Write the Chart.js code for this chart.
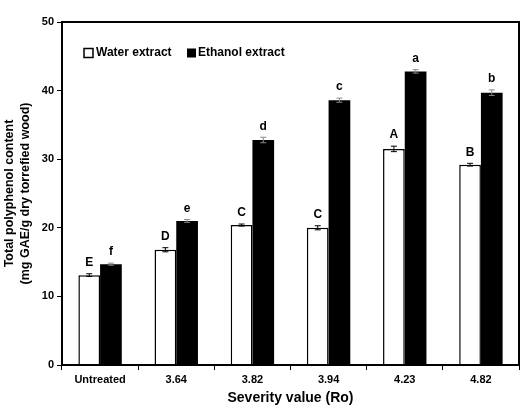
<!DOCTYPE html>
<html>
<head>
<meta charset="utf-8">
<script src="https://cdn.jsdelivr.net/npm/chart.js@4"></script>
<style>
  body { margin: 0; background: #fff; }
  #wrap { width: 521px; height: 407px; }
</style>
</head>
<body>
<div id="wrap"><canvas id="chart" width="521" height="407"></canvas></div>
<script>
const categories = ['Untreated', '3.64', '3.82', '3.94', '4.23', '4.82'];
const waterValues = [13.1, 16.8, 20.4, 20.0, 31.5, 29.2];
const ethanolValues = [14.7, 21.0, 32.8, 38.6, 42.8, 39.7];
const waterErrors = [0.2, 0.3, 0.15, 0.3, 0.4, 0.2];
const ethanolErrors = [0.15, 0.2, 0.4, 0.3, 0.25, 0.4];
const waterLetters = ['E', 'D', 'C', 'C', 'A', 'B'];
const ethanolLetters = ['f', 'e', 'd', 'c', 'a', 'b'];

const errors = [waterErrors, ethanolErrors];
const letters = [waterLetters, ethanolLetters];

const extras = {
  id: 'extras',
  afterDatasetsDraw(chart) {
    const ctx = chart.ctx;
    const y = chart.scales.y;
    ctx.save();
    chart.data.datasets.forEach((ds, i) => {
      const meta = chart.getDatasetMeta(i);
      meta.data.forEach((bar, j) => {
        const v = ds.data[j];
        const e = errors[i][j];
        const yt = y.getPixelForValue(v + e);
        const yb = y.getPixelForValue(v - e);
        ctx.strokeStyle = i === 0 ? '#000' : '#888';
        ctx.lineWidth = 1;
        ctx.beginPath();
        ctx.moveTo(bar.x, yt); ctx.lineTo(bar.x, yb);
        ctx.moveTo(bar.x - 3, yt); ctx.lineTo(bar.x + 3, yt);
        ctx.moveTo(bar.x - 3, yb); ctx.lineTo(bar.x + 3, yb);
        ctx.stroke();
        ctx.fillStyle = '#000';
        ctx.font = 'bold 12px Arial, "Liberation Sans", sans-serif';
        ctx.textAlign = 'center';
        ctx.textBaseline = 'bottom';
        ctx.fillText(letters[i][j], bar.x, yt - 5);
      });
    });
    // frame
    const a = chart.chartArea;
    ctx.strokeStyle = '#000';
    ctx.lineWidth = 2;
    ctx.strokeRect(a.left, a.top, a.right - a.left, a.bottom - a.top);
    // legend
    ctx.font = 'bold 12px Arial, "Liberation Sans", sans-serif';
    ctx.textAlign = 'left';
    ctx.textBaseline = 'middle';
    const ly = 53;
    ctx.lineWidth = 1.5;
    ctx.fillStyle = '#fff';
    ctx.fillRect(84, ly - 4.5, 9, 9);
    ctx.strokeRect(84, ly - 4.5, 9, 9);
    ctx.fillStyle = '#000';
    ctx.fillText('Water extract', 96, ly);
    ctx.fillRect(187, ly - 4.5, 9, 9);
    ctx.fillText('Ethanol extract', 198, ly);
    ctx.restore();
  }
};

new Chart(document.getElementById('chart'), {
  type: 'bar',
  data: {
    labels: categories,
    datasets: [
      {
        label: 'Water extract',
        data: waterValues,
        backgroundColor: '#fff',
        borderColor: '#000',
        borderWidth: 1.5,
        borderSkipped: 'bottom'
      },
      {
        label: 'Ethanol extract',
        data: ethanolValues,
        backgroundColor: '#000',
        borderColor: '#000',
        borderWidth: 0
      }
    ]
  },
  options: {
    responsive: false,
    animation: false,
    layout: { padding: { top: 22, right: 2, left: 0, bottom: 0 } },
    datasets: { bar: { categoryPercentage: 0.57, barPercentage: 1 } },
    plugins: {
      legend: { display: false },
      tooltip: { enabled: false }
    },
    scales: {
      x: {
        grid: { display: true, drawOnChartArea: false, color: '#000', tickLength: 5, offset: true },
        border: { display: false },
        ticks: { color: '#000', font: { family: 'Arial', weight: 'bold', size: 11 }, padding: 3, maxRotation: 0 },
        title: {
          display: true,
          text: 'Severity value (Ro)',
          color: '#000',
          font: { family: 'Arial', weight: 'bold', size: 14 },
          padding: { top: 4, bottom: 0 }
        },
        afterFit(scale) { scale.height = 42; }
      },
      y: {
        min: 0,
        max: 50,
        ticks: { stepSize: 10, color: '#000', font: { family: 'Arial', weight: 'bold', size: 11 }, padding: 3 },
        grid: { display: true, drawOnChartArea: false, color: '#000', tickLength: 5 },
        border: { display: false },
        title: {
          display: true,
          text: ['Total polyphenol content', '(mg GAE/g dry torrefied wood)'],
          color: '#000',
          font: { family: 'Arial', weight: 'bold', size: 12.5, lineHeight: 1.25 },
          padding: { top: 2, bottom: 2 }
        },
        afterFit(scale) { scale.width = 62; }
      }
    }
  },
  plugins: [extras]
});
</script>
</body>
</html>
